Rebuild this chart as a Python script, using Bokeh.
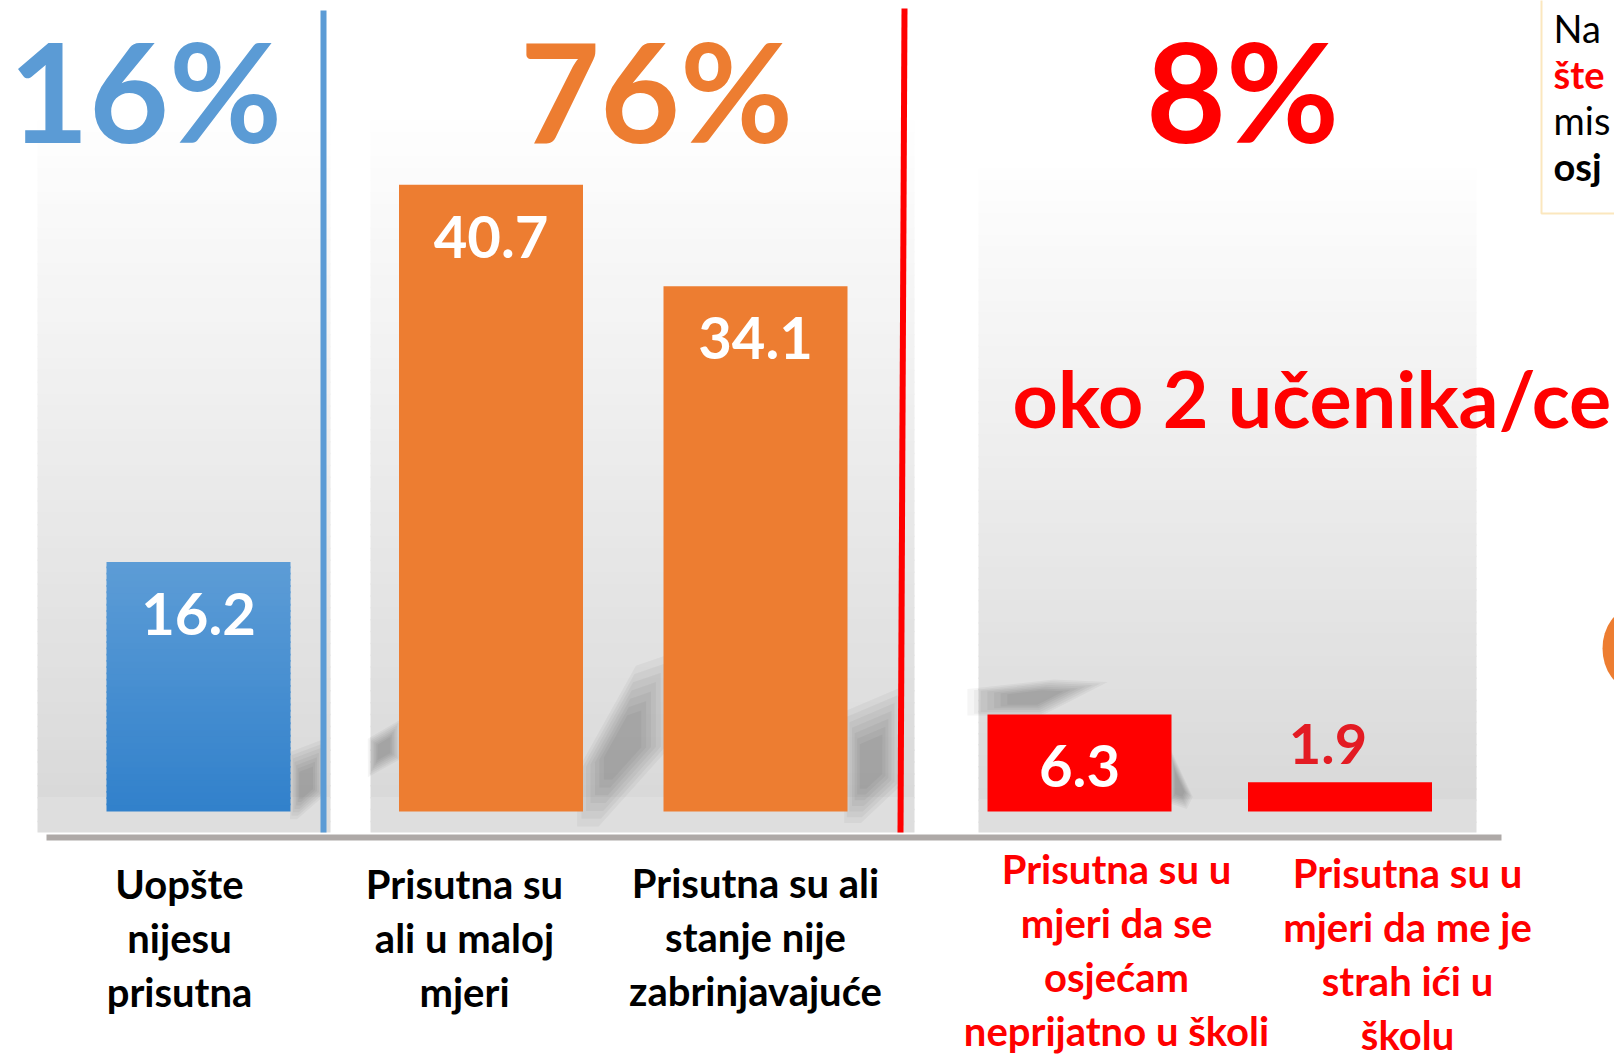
from bokeh.plotting import figure
from bokeh.models import Range1d
from bokeh.core.properties import value
from bokeh.embed import file_html
from bokeh.resources import INLINE

# ---------------- data ----------------
categories = [
    "Uopšte nijesu prisutna",
    "Prisutna su ali u maloj mjeri",
    "Prisutna su ali stanje nije zabrinjavajuće",
    "Prisutna su u mjeri da se osjećam neprijatno u školi",
    "Prisutna su u mjeri da me je strah ići u školu",
]
category_lines = [
    ["Uopšte", "nijesu", "prisutna"],
    ["Prisutna su", "ali u maloj", "mjeri"],
    ["Prisutna su ali", "stanje nije", "zabrinjavajuće"],
    ["Prisutna su u", "mjeri da se", "osjećam", "neprijatno u školi"],
    ["Prisutna su u", "mjeri da me je", "strah ići u", "školu"],
]
values = [16.2, 40.7, 34.1, 6.3, 1.9]
value_labels = ["16.2", "40.7", "34.1", "6.3", "1.9"]
group_labels = ["16%", "76%", "8%"]
note_text = "oko 2 učenika/ce"
side_text = ["Na", "šte", "mis", "osj"]

# ---------------- layout / style ----------------
W, H = 1614, 1061
PX = 15.4       # pixels per percentage point
Y0 = 811        # screen y of value 0
ALPHA_SHIFT = 0.38  # em correction for alphabetic baseline placement


def vy(sy):
    return (Y0 - sy) / PX


BLUE = "#5B9BD5"
ORANGE = "#ED7D31"
RED = "#FF0000"
FONT = value("Lato")

bar_x = [198, 490.5, 755, 1079, 1339.5]
bar_w = 184
label_x = [179, 464, 755, 1116, 1407]
label_y0 = [883, 883, 882, 868, 872]
label_pitch = 54
label_colors = ["black", "black", "black", RED, RED]

p = figure(width=W, height=H, output_backend="svg", toolbar_location=None,
           x_range=Range1d(0, W), y_range=Range1d(vy(H), vy(0)),
           x_axis_location=None, y_axis_location=None, min_border=0,
           background_fill_color="white", border_fill_color="white")
p.grid.visible = False
p.outline_line_color = None


def hexmix(c1, c2, t):
    a = [int(c1[i:i + 2], 16) for i in (1, 3, 5)]
    b = [int(c2[i:i + 2], 16) for i in (1, 3, 5)]
    return "#%02x%02x%02x" % tuple(round(a[k] + (b[k] - a[k]) * t) for k in range(3))


# background panels with vertical gradient
panels = [(37, 330, 120), (370, 914, 120), (978, 1476, 168)]
for (l, r, top) in panels:
    n = 60
    bottom = 832
    lefts, rights, tops, bottoms, cols = [], [], [], [], []
    for i in range(n):
        s0 = top + (bottom - top) * i / n
        s1 = top + (bottom - top) * (i + 1) / n
        if s0 < 790:
            c = hexmix("#FEFEFE", "#D9D9D9", min(1.0, (s0 - top) / (790 - top)))
        else:
            c = "#DEDEDE"
        lefts.append(l); rights.append(r); tops.append(vy(s0))
        bottoms.append(vy(min(s1 + 1.5, bottom)))
        cols.append(c)
    p.quad(left=lefts, right=rights, top=tops, bottom=bottoms, fill_color=cols, line_color=None)

# soft shadows behind bars
shadows = [
    [(292, 813), (292, 757), (321, 746), (321, 793), (298, 813)],
    [(370, 772), (370, 740), (397, 724), (397, 757)],
    [(584, 813), (584, 767), (633, 679), (662, 669), (662, 746), (602, 813)],
    [(848, 813), (848, 720), (895, 700), (895, 782), (862, 813)],
    [(978, 712), (978, 690), (1050, 682), (1095, 684), (1060, 702), (1040, 712)],
    [(1170, 800), (1170, 752), (1190, 795), (1185, 805)],
]
for poly in shadows:
    cx = sum(q[0] for q in poly) / len(poly)
    cy = sum(q[1] for q in poly) / len(poly)
    for f in (1.2, 1.08, 0.96, 0.84, 0.72, 0.6, 0.48):
        xs = [cx + (q[0] - cx) * f for q in poly]
        ys = [vy(cy + (q[1] - cy) * f) for q in poly]
        p.patch(xs, ys, fill_color="black", fill_alpha=0.04, line_color=None)

# bars: blue bar with vertical gradient
nb = 40
bl, br, bt, bb, bc = [], [], [], [], []
for i in range(nb):
    v0 = values[0] * i / nb
    v1 = values[0] * (i + 1) / nb
    bl.append(bar_x[0] - bar_w / 2); br.append(bar_x[0] + bar_w / 2)
    bb.append(v0); bt.append(min(values[0], v1 + 0.12))
    bc.append(hexmix("#3281CB", "#5C9CD6", i / (nb - 1)))
p.quad(left=bl, right=br, top=bt, bottom=bb, fill_color=bc, line_color=None)

bar_cols = [None, ORANGE, ORANGE, RED, RED]
for i in range(1, 5):
    p.vbar(x=[bar_x[i]], width=bar_w, top=[values[i]], bottom=[0],
           fill_color=bar_cols[i], line_color=None)

# value labels
for i in range(5):
    if values[i] > 4:
        p.text(x=[bar_x[i]], y=[values[i] - 52 / PX], text=[value_labels[i]],
               text_color="white", text_font=FONT, text_font_style="bold",
               text_font_size="58px", text_align="center", text_baseline="middle")
    else:
        p.text(x=[bar_x[i] - 12], y=[values[i] + 38 / PX], text=[value_labels[i]],
               text_color="#E31B23", text_font=FONT, text_font_style="bold",
               text_font_size="56px", text_align="center", text_baseline="middle")

# divider lines
p.line([323, 323], [vy(10), vy(832)], line_color=BLUE, line_width=6)
p.line([904, 900], [vy(8), vy(832)], line_color=RED, line_width=6)

# baseline
p.line([46, 1501], [vy(837), vy(837)], line_color="#AEA9A7", line_width=6)


def alpha_y(target, fs):
    return vy(target - ALPHA_SHIFT * fs)


# group percentages
gx = [145, 656, 1242]
gc = [BLUE, ORANGE, RED]
for i in range(3):
    p.text(x=[gx[i]], y=[alpha_y(141, 138)], text=[group_labels[i]], text_color=gc[i],
           text_font=FONT, text_font_style="bold", text_font_size="138px",
           text_align="center", text_baseline="alphabetic")

# note
p.text(x=[1012], y=[alpha_y(427, 79)], text=[note_text], text_color=RED, text_font=FONT,
       text_font_style="bold", text_font_size="79px", text_align="left",
       text_baseline="alphabetic")

# category labels
for i, lines in enumerate(category_lines):
    for j, ln in enumerate(lines):
        p.text(x=[label_x[i]], y=[vy(label_y0[i] + label_pitch * j)], text=[ln],
               text_color=label_colors[i], text_font=FONT, text_font_style="bold",
               text_font_size="40px", text_align="center", text_baseline="middle")

# top-right text box (fragment at the edge)
p.line([1541, 1541, 1640], [vy(-10), vy(213), vy(213)], line_color="#FBE7BE", line_width=2)
side_y = [42, 88, 134, 180]
side_col = ["black", RED, "black", "black"]
side_style = ["normal", "bold", "normal", "bold"]
for k in range(4):
    p.text(x=[1553], y=[alpha_y(side_y[k], 38)], text=[side_text[k]], text_color=side_col[k],
           text_font=FONT, text_font_style=side_style[k], text_font_size="38px",
           text_align="left", text_baseline="alphabetic")

# orange shape at the right edge
p.ellipse(x=[1632], y=[vy(648)], width=60, height=80 / PX, fill_color=ORANGE, line_color=None)

open("out.html", "w").write(file_html(p, INLINE))
